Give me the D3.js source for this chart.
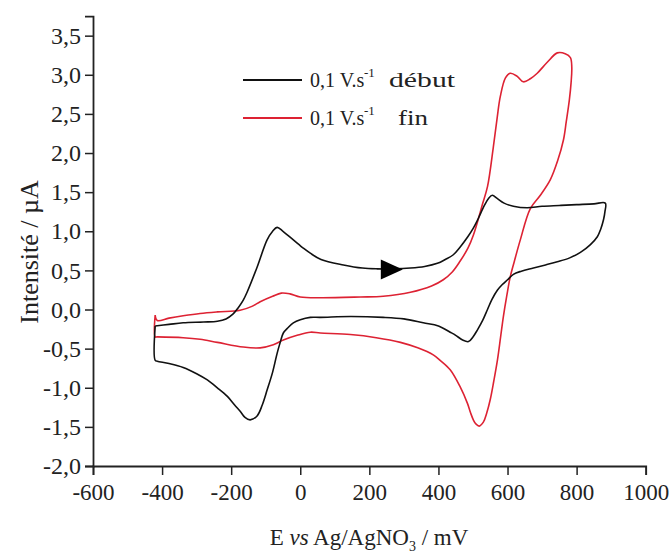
<!DOCTYPE html>
<html><head><meta charset="utf-8">
<script src="https://cdn.jsdelivr.net/npm/d3@7/dist/d3.min.js"></script>
<style>body{margin:0;background:#fff}text{font-family:"Liberation Serif","Times New Roman",serif;fill:#222}</style>
</head><body><svg id="c" width="670" height="553"></svg>
<script>
const xTicks=[-600,-400,-200,0,200,400,600,800,1000];
const xMinor=[-500,-300,-100,100,300,500,700,900];
const yTicks=[-2,-1.5,-1,-0.5,0,0.5,1,1.5,2,2.5,3,3.5];
const yMinor=[-1.75,-1.25,-0.75,-0.25,0.25,0.75,1.25,1.75,2.25,2.75,3.25,3.75];
const seriesNames=["0,1 V.s","0,1 V.s"];
const seriesSuffix=["début","fin"];
// black : 0,1 V.s-1 début
const debutE=[-420,-380,-339,-280,-240,-215,-195,-180,-165,-154,-125,-96,-80,-67,-50,-20,10,29,60,125,180,223,270,319,360,397,420,443,463,485,501,515,533,545,556,570,590,617,657,700,750,800,850,883,
 882,878,870,860,840,811,780,744,710,675,640,617,600,585,571,555,542,528,513,500,487,470,450,434,400,356,300,240,145,58,29,0,-20,-35,-49,-58,-67,-80,-96,-110,-125,-145,-160,-174,-190,-211,-240,-269,-300,-339,-380,-414,-420,-420];
const debutI=[-0.21,-0.19,-0.17,-0.16,-0.15,-0.12,-0.06,0.02,0.12,0.22,0.54,0.89,1.00,1.05,1.00,0.89,0.78,0.72,0.64,0.57,0.53,0.52,0.52,0.53,0.55,0.59,0.64,0.70,0.80,0.93,1.04,1.16,1.33,1.42,1.46,1.42,1.36,1.32,1.30,1.32,1.33,1.34,1.35,1.36,
 1.25,1.15,1.03,0.93,0.83,0.73,0.66,0.61,0.57,0.53,0.49,0.45,0.38,0.32,0.25,0.13,0.0,-0.14,-0.26,-0.35,-0.41,-0.39,-0.33,-0.29,-0.21,-0.17,-0.12,-0.10,-0.09,-0.10,-0.10,-0.13,-0.17,-0.23,-0.30,-0.42,-0.56,-0.80,-1.03,-1.22,-1.36,-1.41,-1.38,-1.30,-1.22,-1.11,-1.00,-0.90,-0.82,-0.74,-0.69,-0.66,-0.65,-0.21];
// red : 0,1 V.s-1 fin
const finE=[-420,-414,-380,-339,-290,-240,-174,-140,-116,-80,-55,-30,0,58,174,240,319,380,414,440,463,485,501,515,527,542,559,570,579,594,608,628,646,666,686,715,744,767,782,786,
 784,779,770,762,745,724,695,666,637,620,608,598,588,580,571,560,550,540,530,518,508,501,493,484,463,434,405,385,340,290,220,145,58,29,-9,-49,-78,-116,-165,-240,-290,-339,-414,-420,-420];
const finI=[-0.07,-0.14,-0.11,-0.08,-0.05,-0.03,-0.01,0.04,0.10,0.17,0.21,0.20,0.16,0.15,0.16,0.17,0.22,0.30,0.38,0.48,0.62,0.78,0.95,1.15,1.34,1.57,2.08,2.45,2.72,2.96,3.02,2.98,2.91,2.95,3.02,3.16,3.28,3.27,3.22,3.10,
 2.90,2.68,2.40,2.17,1.90,1.66,1.46,1.29,0.89,0.62,0.42,0.18,-0.09,-0.35,-0.64,-0.92,-1.15,-1.32,-1.44,-1.49,-1.46,-1.41,-1.32,-1.20,-0.99,-0.77,-0.65,-0.58,-0.49,-0.42,-0.36,-0.32,-0.30,-0.29,-0.33,-0.39,-0.45,-0.49,-0.48,-0.42,-0.38,-0.36,-0.35,-0.35,-0.07];
const arrowE=265, arrowI=0.51;
const colors=["#111111","#dd2233"];

const svg=d3.select("#c");
const x=d3.scaleLinear().domain([-600,1000]).range([93,645.7]);
const y=d3.scaleLinear().domain([-2,3.75]).range([466,16.1]);

const fmtY=d=>d.toFixed(1).replace(".",",");
const fmtX=d=>String(d);

// axes
const gx=svg.append("g").attr("transform","translate(0,466)");
gx.call(d3.axisBottom(x).tickValues(xMinor).tickSize(5).tickFormat(""));
gx.call(d3.axisBottom(x).tickValues(xTicks).tickSize(9).tickPadding(8).tickFormat(fmtX));
gx.selectAll("path.domain").attr("stroke","#222").attr("stroke-width",1.8);
gx.selectAll(".tick line").attr("stroke","#222").attr("stroke-width",1.5);
gx.selectAll("text").style("font-size","23px").attr("fill","#222").attr("dy","0.72em");

const gy=svg.append("g").attr("transform","translate(93,0)");
gy.call(d3.axisLeft(y).tickValues(yMinor).tickSize(4).tickFormat(""));
gy.call(d3.axisLeft(y).tickValues(yTicks).tickSize(8).tickPadding(4).tickFormat(fmtY));
gy.selectAll("path.domain").attr("stroke","#222").attr("stroke-width",1.8);
gy.selectAll(".tick line").attr("stroke","#222").attr("stroke-width",1.5);
gy.selectAll("text").style("font-size","24px").attr("fill","#222");

// curves
const line=d3.line().x(d=>x(d[0])).y(d=>y(d[1])).curve(d3.curveCatmullRom.alpha(0.5));
const series=[d3.zip(debutE,debutI),d3.zip(finE,finI)];
svg.append("path").datum(series[1]).attr("d",line).attr("fill","none").attr("stroke",colors[1]).attr("stroke-width",1.6).attr("stroke-linejoin","round");
svg.append("path").datum(series[0]).attr("d",line).attr("fill","none").attr("stroke",colors[0]).attr("stroke-width",1.6).attr("stroke-linejoin","round");

// arrow
const ax=x(arrowE), ay=y(arrowI);
svg.append("path").attr("d",`M${ax-11},${ay-10}L${ax+11},${ay}L${ax-11},${ay+10}Z`).attr("fill","#000");

// legend
const legY=[80,118];
legY.forEach((ly,i)=>{
  svg.append("line").attr("x1",243).attr("x2",302).attr("y1",ly).attr("y2",ly).attr("stroke",colors[i]).attr("stroke-width",1.8);
  const t=svg.append("text").attr("x",310).attr("y",ly+7).style("font-size","20px");
  t.append("tspan").text(seriesNames[i]);
  svg.append("text").attr("x",364).attr("y",ly-3).style("font-size","13px").text("-1");
  const s=svg.append("text").attr("x",i===0?389:398).attr("y",ly+7).style("font-size","20px").text(seriesSuffix[i]);
  s.attr("textLength",i===0?66:30).attr("lengthAdjust","spacingAndGlyphs");
});

// axis titles
const xt=svg.append("text").attr("x",369).attr("y",545).attr("text-anchor","middle").style("font-size","23px");
xt.append("tspan").text("E ");
xt.append("tspan").style("font-style","italic").text("vs");
xt.append("tspan").text(" Ag/AgNO");
xt.append("tspan").attr("dy",6).style("font-size","14px").text("3");
xt.append("tspan").attr("dy",-6).text(" / mV");

svg.append("text").attr("transform","translate(38,252) rotate(-90)").attr("text-anchor","middle").style("font-size","26px").text("Intensité / µA");
</script></body></html>
